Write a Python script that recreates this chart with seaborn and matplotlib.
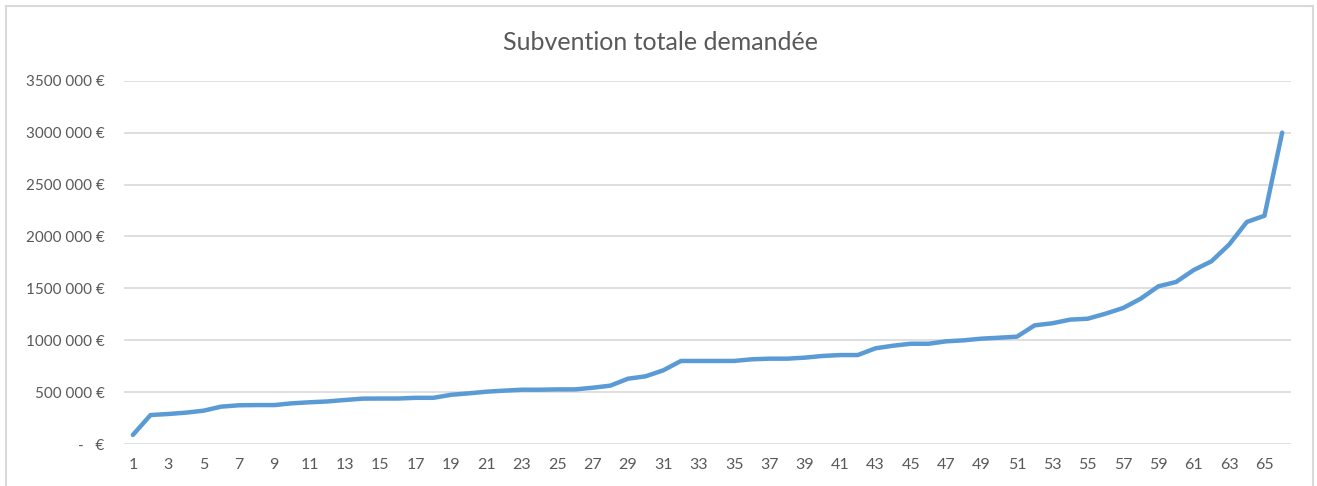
import numpy as np
import pandas as pd
import matplotlib
matplotlib.use("Agg")
import matplotlib.pyplot as plt
from matplotlib.patches import Rectangle
from matplotlib.ticker import FuncFormatter
import seaborn as sns

# montant demandé par projet, trié
rang = list(range(1, 67))
subvention = [
    87000, 279000, 289000, 302000, 321000, 360000, 373000, 375000, 375000, 392000,
    402000, 410000, 424000, 437000, 438000, 438000, 445000, 445000, 474000, 488000,
    504000, 514000, 523000, 523000, 526000, 526000, 542000, 562000, 629000, 652000,
    710000, 800000, 800000, 800000, 800000, 816000, 822000, 822000, 832000, 848000,
    857000, 857000, 922000, 947000, 966000, 966000, 989000, 999000, 1015000, 1024000,
    1034000, 1143000, 1163000, 1198000, 1207000, 1255000, 1310000, 1400000, 1519000, 1561000,
    1676000, 1760000, 1921000, 2139000, 2199000, 3000000,
]
titre = "Subvention totale demandée"
y_ticks = [0, 500000, 1000000, 1500000, 2000000, 2500000, 3000000, 3500000]

df = pd.DataFrame({"rang": rang, "subvention": subvention})

sns.set_style("white")
plt.rcParams["font.family"] = ["Lato", "DejaVu Sans"]

gris = "#595959"
fig = plt.figure(figsize=(13.17, 4.86), dpi=100)
ax = fig.add_axes([124 / 1317, 42 / 486, 1167 / 1317, 363.3 / 486])

sns.lineplot(data=df, x="rang", y="subvention", ax=ax, color="#5B9BD5",
             linewidth=3.2, solid_joinstyle="round", solid_capstyle="round")

ax.set_xlim(0.5, 66.5)
ax.set_ylim(0, 3500000)
ax.set_yticks(y_ticks)
ax.set_xticks(rang[::2])


def euro(v, pos):
    if v == 0:
        return "-   €"
    s = f"{int(v):d}"
    return s[:-3] + " " + s[-3:] + " €"


ax.yaxis.set_major_formatter(FuncFormatter(euro))
ax.grid(axis="y", color="#D9D9D9", linewidth=1.2)
ax.grid(axis="x", visible=False)
for sp in ax.spines.values():
    sp.set_visible(False)
ax.tick_params(axis="y", length=0, pad=14, labelsize=11, labelcolor=gris)
ax.tick_params(axis="x", length=0, pad=10, labelsize=11.5, labelcolor=gris)
ax.set_xlabel("")
ax.set_ylabel("")

fig.text(660 / 1317, 1 - 42 / 486, titre, ha="center", va="center",
         fontsize=18, color=gris)

# cadre du graphique
fig.patches.append(Rectangle((6 / 1317, -0.05), 1307 / 1317, 1 - 6 / 486 + 0.05,
                             transform=fig.transFigure, fill=False,
                             edgecolor="#D9D9D9", linewidth=1.5))

fig.savefig("out.png", dpi=100)
